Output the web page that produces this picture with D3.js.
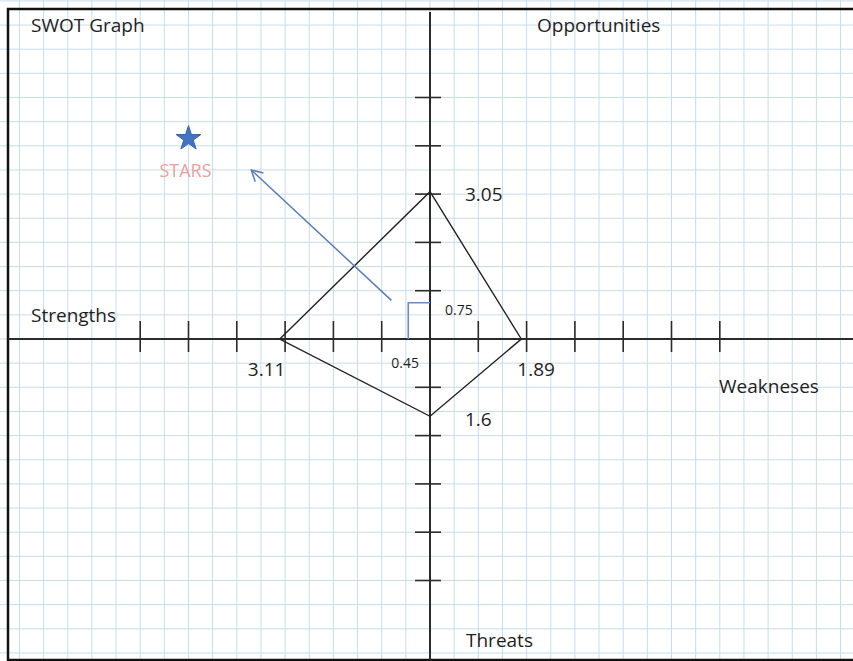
<!DOCTYPE html>
<html>
<head>
<meta charset="utf-8">
<script src="https://cdn.jsdelivr.net/npm/d3@7"></script>
<style>
  body { margin: 0; background: #fff; }
  text { font-family: "Open Sans", sans-serif; fill: #1e1e1e; }
</style>
</head>
<body>
<script>
// les quatre axes SWOT
const quadrants = ['Strengths', 'Weakneses', 'Opportunities', 'Threats'];
// score de chaque bras : forces, faiblesses, opportunites, menaces
const scores = [3.11, 1.89, 3.05, 1.6];
// point resultat (x : forces/faiblesses, y : opportunites/menaces)
const resultat = [-0.45, 0.75];
const resultatLabels = ['0.45', '0.75'];
// graduations
const ticksX = [-6, -5, -4, -3, -2, -1, 1, 2, 3, 4, 5, 6];
const ticksY = [-5, -4, -3, -2, -1, 1, 2, 3, 4, 5];
// fleche vers la zone "stars"
const fleche = [[-0.8, 0.8], [-3.7, 3.5]];
const etoile = [-5.0, 4.15];

const W = 853, H = 661, unite = 48.3;
const ox = 430, oy = 339;

const svg = d3.select('body').append('svg')
  .attr('width', W).attr('height', H);

const x = d3.scaleLinear().domain([-ox / unite, (W - ox) / unite]).range([0, W]);
const y = d3.scaleLinear().domain([oy / unite, -(H - oy) / unite]).range([0, H]);

// quadrillage (demi-unites)
const gx = d3.range(Math.ceil(x.domain()[0] * 2), Math.floor(x.domain()[1] * 2) + 1).map(d => d / 2);
const gy = d3.range(Math.ceil(y.domain()[1] * 2), Math.floor(y.domain()[0] * 2) + 1).map(d => d / 2);
svg.append('g').selectAll('line').data(gx).enter().append('line')
  .attr('x1', d => x(d)).attr('x2', d => x(d)).attr('y1', 0).attr('y2', H)
  .attr('stroke', '#c8dde9').attr('stroke-width', 1);
svg.append('g').selectAll('line').data(gy).enter().append('line')
  .attr('y1', d => y(d)).attr('y2', d => y(d)).attr('x1', 0).attr('x2', W)
  .attr('stroke', '#c8dde9').attr('stroke-width', 1);

// cadre
svg.append('path')
  .attr('d', `M${W},9 H8 V${H - 1} H${W}`)
  .attr('fill', 'none').attr('stroke', '#111').attr('stroke-width', 2.5);

// axes
svg.append('line').attr('x1', 8).attr('x2', W).attr('y1', y(0)).attr('y2', y(0))
  .attr('stroke', '#2b2b2b').attr('stroke-width', 2);
svg.append('line').attr('x1', x(0)).attr('x2', x(0)).attr('y1', 12).attr('y2', H)
  .attr('stroke', '#2b2b2b').attr('stroke-width', 2);

svg.append('g').selectAll('line').data(ticksX).enter().append('line')
  .attr('x1', d => x(d)).attr('x2', d => x(d))
  .attr('y1', y(0) - 18).attr('y2', y(0) + 13)
  .attr('stroke', '#2b2b2b').attr('stroke-width', 1.6);
svg.append('g').selectAll('line').data(ticksY).enter().append('line')
  .attr('y1', d => y(d)).attr('y2', d => y(d))
  .attr('x1', x(0) - 15).attr('x2', x(0) + 11)
  .attr('stroke', '#2b2b2b').attr('stroke-width', 1.6);

// losange des scores
const sommets = [
  [x(-scores[0]), y(0)],
  [x(0), y(scores[2])],
  [x(scores[1]), y(0)],
  [x(0), y(-scores[3])]
];
svg.append('path')
  .attr('d', d3.line()(sommets) + 'Z')
  .attr('fill', 'none').attr('stroke', '#222').attr('stroke-width', 1.4);

// equerre du resultat
svg.append('path')
  .attr('d', d3.line()([[x(resultat[0]), y(0)], [x(resultat[0]), y(resultat[1])], [x(0), y(resultat[1])]]))
  .attr('fill', 'none').attr('stroke', '#6b8cc6').attr('stroke-width', 1.6);

// fleche
svg.append('defs').append('marker')
  .attr('id', 'pointe').attr('viewBox', '-12 -7 14 14')
  .attr('markerWidth', 14).attr('markerHeight', 14)
  .attr('markerUnits', 'userSpaceOnUse').attr('orient', 'auto')
  .append('path').attr('d', 'M-11,-6 L0,0 L-11,6')
  .attr('fill', 'none').attr('stroke', '#5a7db8').attr('stroke-width', 1.5);
svg.append('path')
  .attr('d', d3.line().x(d => x(d[0])).y(d => y(d[1]))(fleche))
  .attr('stroke', '#5a7db8').attr('stroke-width', 1.5)
  .attr('marker-end', 'url(#pointe)');

// etoile
svg.append('path')
  .attr('d', d3.symbol(d3.symbolStar, 190)())
  .attr('transform', `translate(${x(etoile[0])},${y(etoile[1])})`)
  .attr('fill', '#4472c4').attr('stroke', '#3a62aa').attr('stroke-width', 1);
svg.append('text').text('STARS')
  .attr('x', x(etoile[0]) - 3).attr('y', y(etoile[1]) + 38)
  .attr('text-anchor', 'middle').attr('font-size', 18)
  .style('fill', '#e8a29c');

// textes
const t = (txt, px, py, fs) => svg.append('text').text(txt)
  .attr('x', px).attr('y', py).attr('font-size', fs);
t('SWOT Graph', 31, 32, 19);
t(quadrants[2], 537, 32, 19);
t(quadrants[0], 31, 322, 19);
t(quadrants[1], 719, 393, 19);
t(quadrants[3], 466, 647, 19);

t(scores[2], x(0) + 35, y(scores[2]) + 9, 19);
t(scores[0], x(-scores[0]) - 32, y(0) + 37, 19);
t(scores[1], x(scores[1]) - 4, y(0) + 37, 19);
t(scores[3], x(0) + 35, y(-scores[3]) + 10, 19);
t(resultatLabels[0], x(resultat[0]) - 17, y(0) + 29, 14);
t(resultatLabels[1], x(0) + 15, y(resultat[1]) + 12, 14);
</script>
</body>
</html>
